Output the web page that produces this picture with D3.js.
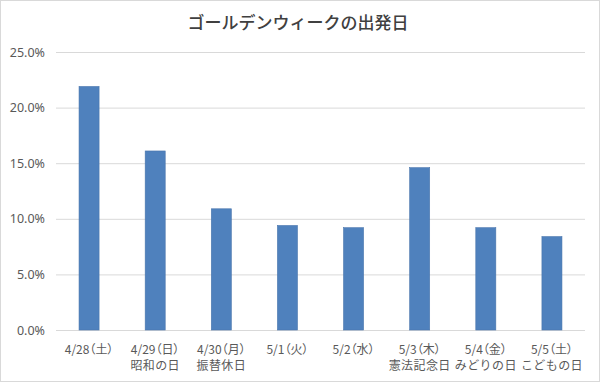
<!DOCTYPE html>
<html><head><meta charset="utf-8">
<script src="https://cdn.jsdelivr.net/npm/d3@7"></script>
<style>
html,body{margin:0;padding:0;background:#fff;}
svg{display:block;}
text{font-family:"Noto Sans CJK JP","Noto Sans",sans-serif;}
</style></head>
<body>
<svg id="chart" width="600" height="382"></svg>
<script>
const title = "ゴールデンウィークの出発日";
const dates = ["4/28（土）","4/29（日）","4/30（月）","5/1（火）","5/2（水）","5/3（木）","5/4（金）","5/5（土）"];
const holidays = ["","昭和の日","振替休日","","","憲法記念日","みどりの日","こどもの日"];
const values = [21.9, 16.1, 10.9, 9.4, 9.2, 14.6, 9.2, 8.4];
const yTicks = [0, 5, 10, 15, 20, 25];

const svg = d3.select("#chart");
const W = 600, H = 382;
const m = {left:56, right:15, top:52, bottom:52};

svg.append("rect").attr("x",0.5).attr("y",0.5).attr("width",W-1).attr("height",H-1)
  .attr("fill","#fff").attr("stroke","#d9d9d9");

const x = d3.scaleBand().domain(dates).range([m.left, W-m.right]).paddingInner(0.697).paddingOuter(0.3485);
const y = d3.scaleLinear().domain([0,25]).range([H-m.bottom, m.top]);

// gridlines
const grid = d3.axisLeft(y).tickValues(yTicks).tickSize(-(W-m.right-m.left)).tickFormat("");
const g = svg.append("g").attr("transform",`translate(${m.left},0)`).call(grid);
g.select(".domain").remove();
g.selectAll("line").attr("stroke","#d9d9d9").attr("stroke-width",1);

// y labels
const ya = svg.append("g").attr("transform",`translate(${m.left},0)`)
  .call(d3.axisLeft(y).tickValues(yTicks).tickSize(0).tickPadding(11).tickFormat(d=>d.toFixed(1)+"%"));
ya.select(".domain").remove();
ya.selectAll("text").attr("fill","#595959").style("font-size","12.5px")
  .style("font-family","'Noto Sans','Noto Sans CJK JP',sans-serif");

// bars
svg.append("g").selectAll("rect").data(values).join("rect")
  .attr("x",(d,i)=>x(dates[i])).attr("width",x.bandwidth())
  .attr("y",d=>y(d)).attr("height",d=>y(0)-y(d))
  .attr("fill","#4f81bd").attr("stroke","#4a76ad").attr("stroke-width",0.6);

// x labels (two separate lines)
const xa = svg.append("g").attr("transform",`translate(0,${H-m.bottom})`)
  .call(d3.axisBottom(x).tickSize(0).tickPadding(0).tickFormat(""));
xa.select(".domain").remove();
xa.selectAll(".tick").each(function(d,i){
  const tick = d3.select(this);
  tick.append("text").attr("fill","#595959").attr("text-anchor","middle")
    .attr("x",0).attr("y",23.5).style("font-size","12px")
    .style("font-feature-settings","'palt'").text(dates[i]);
  if (holidays[i]) tick.append("text").attr("fill","#595959").attr("text-anchor","middle")
    .attr("x",0).attr("y",40).style("font-size","12px").style("letter-spacing","0.4px")
    .text(holidays[i]);
});

svg.append("text").attr("x",298).attr("y",29).attr("text-anchor","middle")
  .attr("fill","#404040").style("font-size","17px").style("font-weight","500").text(title);
</script>
</body></html>
